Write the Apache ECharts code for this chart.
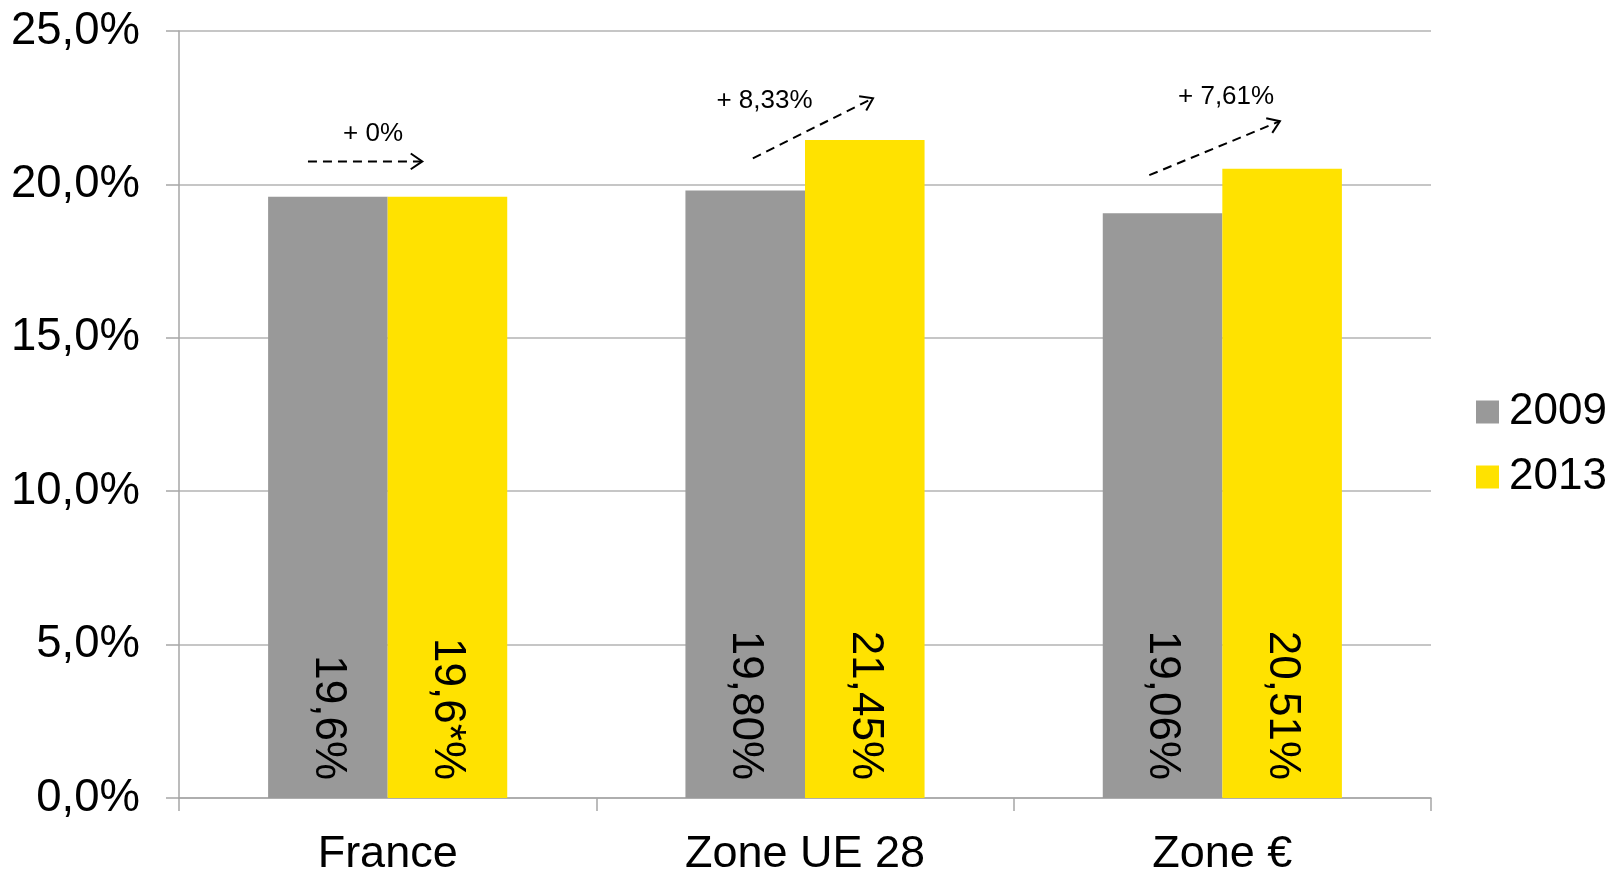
<!DOCTYPE html>
<html>
<head>
<meta charset="utf-8">
<script src="https://cdn.jsdelivr.net/npm/echarts@6/dist/echarts.min.js"></script>
<style>
  html, body { margin: 0; padding: 0; background: #fff; }
  #chart { width: 1612px; height: 870px; }
</style>
</head>
<body>
<div id="chart"></div>
<script>
// Taux de TVA standard, 2009 vs 2013
const categories = ['France', 'Zone UE 28', 'Zone €'];
const seriesNames = ['2009', '2013'];
const values2009 = [19.6, 19.80, 19.06];
const values2013 = [19.6, 21.45, 20.51];
const decimals2009 = [1, 2, 2];
const decimals2013 = [1, 2, 2];
const notes2013 = ['*', '', ''];
const yTicks = [0, 5, 10, 15, 20, 25];

// Evolution arrows: [category, start offset (band fraction), start value, end offset, end value]
const arrowLines = [
  [0, -0.191, 20.75, 0.083, 20.75],
  [1, -0.125, 20.85, 0.163, 22.81],
  [2, -0.175, 20.30, 0.138, 22.06]
];
// Arrow captions: [category, offset (band fraction), value]
const arrowLabelPos = [
  [0, -0.035, 21.65],
  [1, -0.097, 22.74],
  [2, 0.009, 22.87]
];
const arrowTexts = ['+ 0%', '+ 8,33%', '+ 7,61%'];

const FONT = '"Liberation Sans", Arial, sans-serif';
const fmtPct = (v, d) => v.toFixed(d).replace('.', ',') + '%';

const arrowData = arrowLines.map((a, i) => ({
  value: a.concat([arrowLabelPos[i][1], arrowLabelPos[i][2]]),
  caption: arrowTexts[i]
}));

function renderArrow(params, api) {
  const cat = api.value(0);
  const band = api.size([1, 0])[0];
  const cx = api.coord([cat, 0])[0];
  const p0 = [cx + api.value(1) * band, api.coord([cat, api.value(2)])[1]];
  const p1 = [cx + api.value(3) * band, api.coord([cat, api.value(4)])[1]];
  const pl = [cx + api.value(5) * band, api.coord([cat, api.value(6)])[1]];
  const ang = Math.atan2(p1[1] - p0[1], p1[0] - p0[0]);
  const headLen = 14, headAng = 0.6;
  const h1 = [p1[0] - headLen * Math.cos(ang - headAng), p1[1] - headLen * Math.sin(ang - headAng)];
  const h2 = [p1[0] - headLen * Math.cos(ang + headAng), p1[1] - headLen * Math.sin(ang + headAng)];
  return {
    type: 'group',
    children: [
      {
        type: 'line',
        shape: { x1: p0[0], y1: p0[1], x2: p1[0], y2: p1[1] },
        style: { stroke: '#000', lineWidth: 2, lineDash: [9, 6] }
      },
      {
        type: 'polyline',
        shape: { points: [h1, p1, h2] },
        style: { stroke: '#000', lineWidth: 2, fill: null }
      },
      {
        type: 'text',
        x: pl[0], y: pl[1],
        style: {
          text: arrowData[params.dataIndex].caption,
          fill: '#000',
          font: '26px ' + FONT,
          align: 'center',
          verticalAlign: 'middle'
        }
      }
    ]
  };
}

const barLabel = (decs, notes) => ({
  show: true,
  position: 'insideBottom',
  distance: 18,
  rotate: -90,
  align: 'right',
  verticalAlign: 'middle',
  fontSize: 44,
  fontFamily: FONT,
  color: '#000',
  formatter: p => p.value.toFixed(decs[p.dataIndex]).replace('.', ',') + (notes ? notes[p.dataIndex] : '') + '%'
});

const chart = echarts.init(document.getElementById('chart'), null, { renderer: 'canvas' });
chart.setOption({
  animation: false,
  backgroundColor: '#ffffff',
  textStyle: { fontFamily: FONT },
  grid: { left: 179, right: 181, top: 31, bottom: 72, containLabel: false, outerBoundsMode: 'none' },
  legend: {
    data: seriesNames,
    orient: 'vertical',
    left: 1471,
    top: 385,
    itemWidth: 23,
    itemHeight: 23,
    itemGap: 21,
    icon: 'rect',
    textStyle: { fontSize: 44, color: '#000', fontFamily: FONT, padding: [0, 0, 0, 5] }
  },
  xAxis: {
    type: 'category',
    data: categories,
    axisLine: { show: true, lineStyle: { color: '#a6a6a6', width: 1.5 } },
    axisTick: { show: true, length: 13, lineStyle: { color: '#a6a6a6', width: 1.5 } },
    axisLabel: { fontSize: 45, color: '#000', fontFamily: FONT, margin: 34 }
  },
  yAxis: {
    type: 'value',
    min: yTicks[0],
    max: yTicks[yTicks.length - 1],
    interval: yTicks[1] - yTicks[0],
    axisLine: { show: true, lineStyle: { color: '#a6a6a6', width: 1.5 } },
    axisTick: { show: true, length: 13, lineStyle: { color: '#a6a6a6', width: 1.5 } },
    splitLine: { show: true, lineStyle: { color: '#b3b3b3', width: 1.5 } },
    axisLabel: { fontSize: 45.5, color: '#000', fontFamily: FONT, margin: 39, formatter: v => fmtPct(v, 1) }
  },
  series: [
    {
      name: seriesNames[0],
      type: 'bar',
      data: values2009,
      barGap: '0%',
      barCategoryGap: '42.7%',
      itemStyle: { color: '#999999' },
      label: barLabel(decimals2009, null)
    },
    {
      name: seriesNames[1],
      type: 'bar',
      data: values2013,
      itemStyle: { color: '#ffe200' },
      label: barLabel(decimals2013, notes2013)
    },
    {
      type: 'custom',
      renderItem: renderArrow,
      data: arrowData,
      z: 10,
      silent: true,
      tooltip: { show: false }
    }
  ]
});
</script>
</body>
</html>
